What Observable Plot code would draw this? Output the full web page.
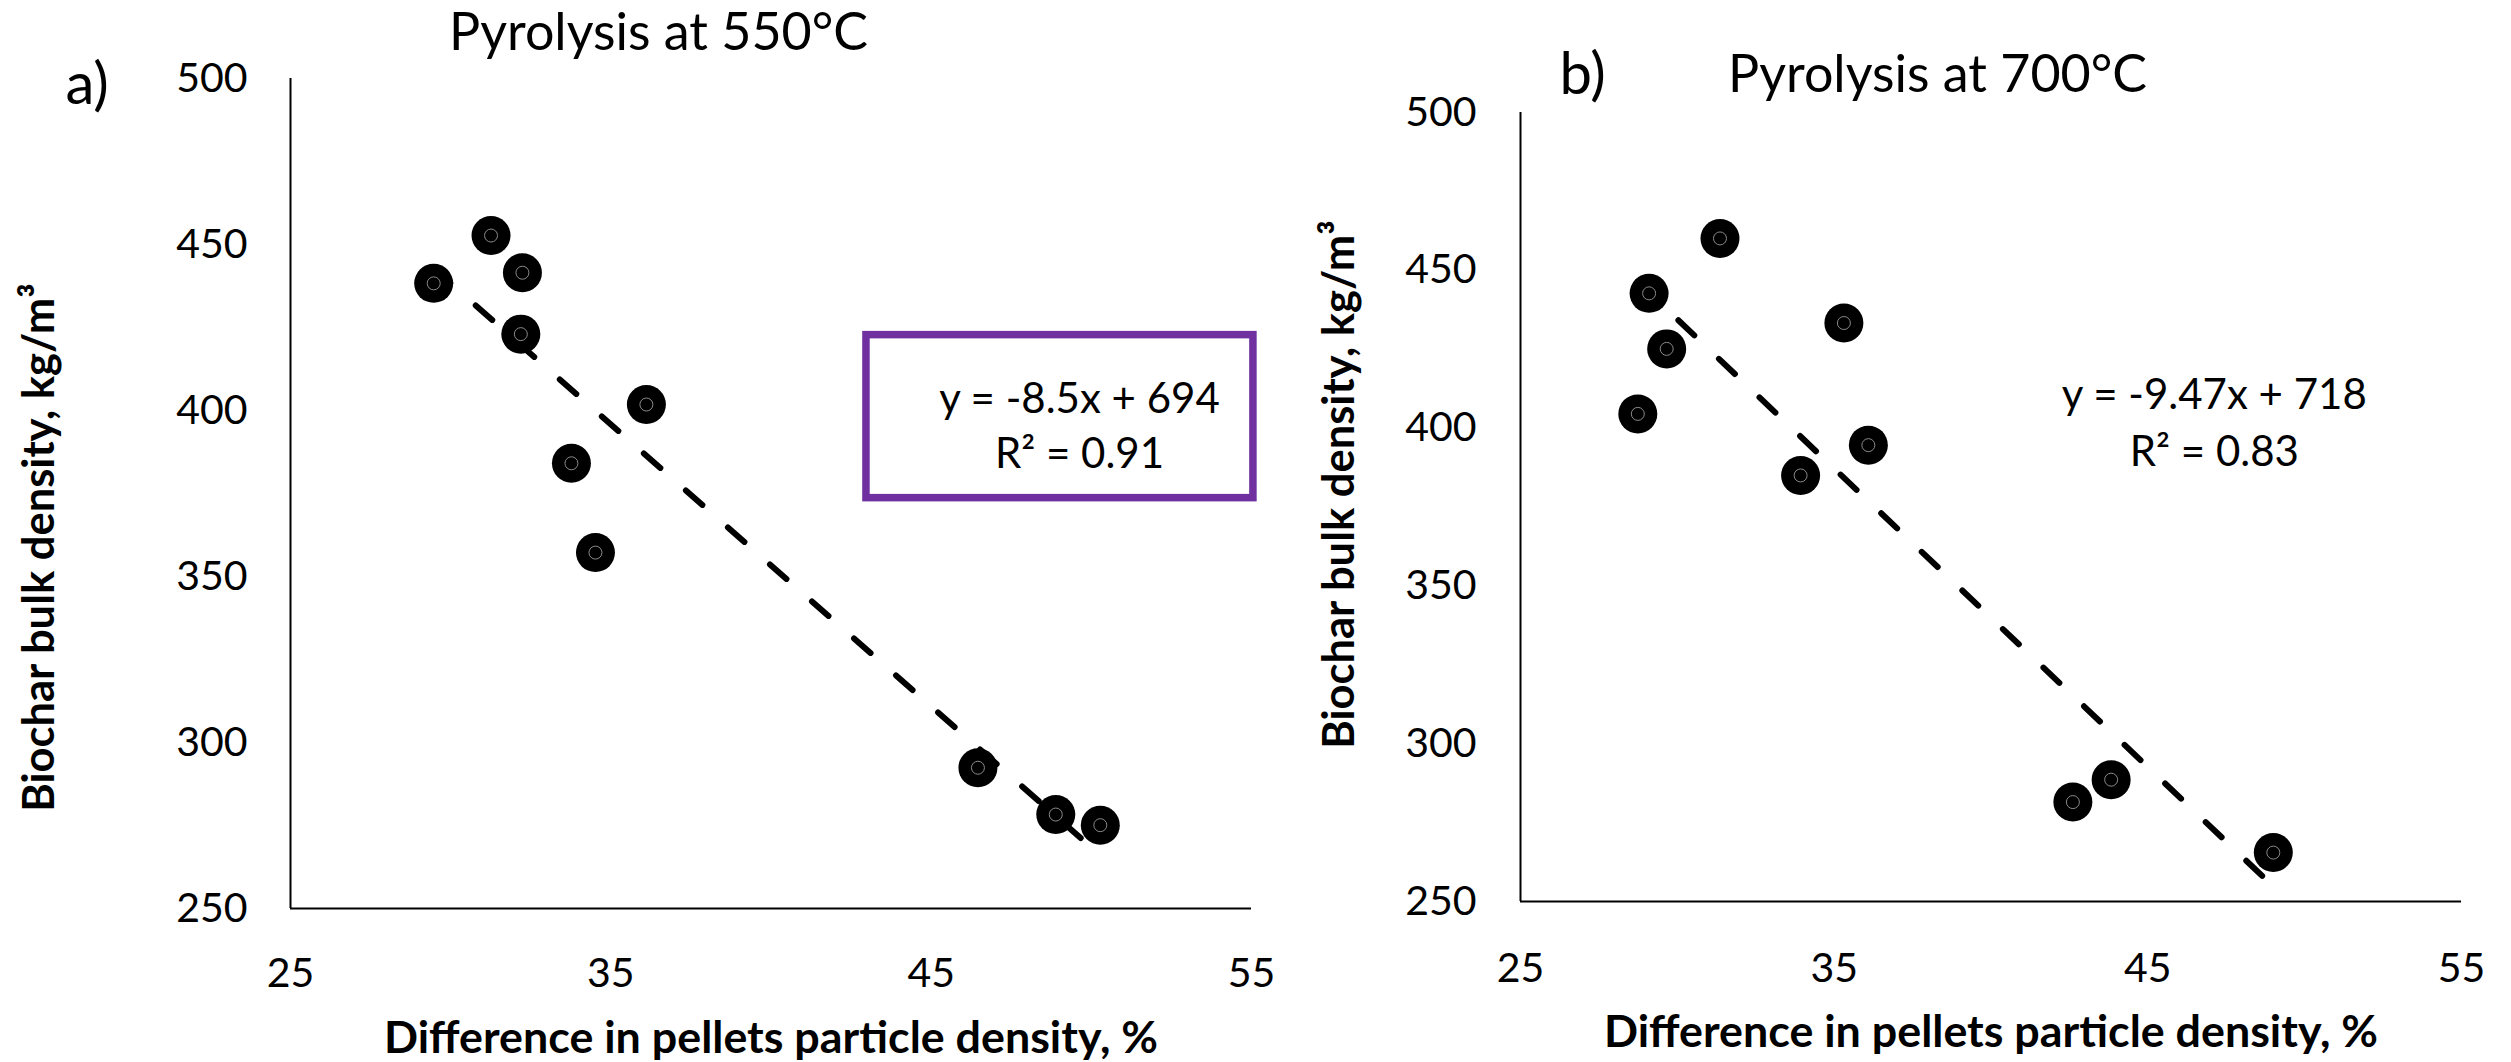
<!DOCTYPE html>
<html>
<head>
<meta charset="utf-8">
<script src="https://cdn.jsdelivr.net/npm/d3@7"></script>
<script src="https://cdn.jsdelivr.net/npm/@observablehq/plot@0.6"></script>
<style>
  html, body { margin: 0; padding: 0; background: #fff; }
  #wrap { position: relative; width: 2511px; height: 1062px; overflow: hidden; background: #fff; }
  #wrap svg { position: absolute; top: 0; max-width: none; }
</style>
</head>
<body>
<div id="wrap"></div>
<script>
// ---- shared axes ----
const xTicks = [25, 35, 45, 55];
const yTicks = [250, 300, 350, 400, 450, 500];
const xLabel = "Difference in pellets particle density, %";
const yLabel = "Biochar bulk density, kg/m³";

// ---- panel a: pyrolysis at 550°C ----
const titleA = "Pyrolysis at 550°C";
const tagA = "a)";
const xA = [29.47, 31.26, 32.24, 32.19, 36.11, 33.77, 34.52, 46.46, 48.89, 50.28];
const yA = [438.3, 452.7, 441.5, 423.0, 401.8, 384.1, 357.2, 292.4, 278.3, 275.1];
const eqA = ["y = -8.5x + 694", "R² = 0.91"];

// ---- panel b: pyrolysis at 700°C ----
const titleB = "Pyrolysis at 700°C";
const tagB = "b)";
const xB = [31.36, 29.10, 29.66, 28.74, 35.31, 36.09, 33.93, 42.61, 43.83, 49.00];
const yB = [460.1, 442.7, 425.1, 404.5, 433.3, 394.6, 385.0, 281.5, 288.6, 265.5];
const eqB = ["y = -9.47x + 718", "R² = 0.83"];

// ---- layout (positions / styles) ----
const FONT = "Lato";
const layoutA = {
  left: 0, width: 1260, height: 1062,
  marginLeft: 290, marginRight: 9, marginTop: 78, marginBottom: 154,
  xPad: 49, yPad: 43,
  title: {dx: -112.5, dy: -45},
  tag: {dx: -225, dy: 7},
  ylab: {dx: -250, dy: 54},
  xlab: {dx: 0, dy: 130},
  eqAt: {x: 49.63, y: [403.4, 386.6]},
  box: {x1: 42.98, x2: 55.06, y1: 373.6, y2: 422.7}
};
const layoutB = {
  left: 1260, width: 1251, height: 1062,
  marginLeft: 260, marginRight: 50, marginTop: 112, marginBottom: 161,
  xPad: 51, yPad: 44,
  title: {dx: -53.5, dy: -37.5},
  tag: {dx: 39, dy: -37},
  ylab: {dx: -180, dy: -22.5},
  xlab: {dx: 0, dy: 131},
  eqAt: {x: 47.12, y: [410.45, 392.1]},
  box: null
};

function panel(xs, ys, title, tag, eq, L) {
  const data = xs.map((x, i) => ({x, y: ys[i]}));
  const eqData = eq.map((t, i) => ({t, x: L.eqAt.x, y: L.eqAt.y[i]}));
  const marks = [
    Plot.ruleX([xTicks[0]], {stroke: "#000", strokeWidth: 2}),
    Plot.ruleY([yTicks[0]], {stroke: "#000", strokeWidth: 2}),
    Plot.linearRegressionY(data, {
      x: "x", y: "y", ci: 0, stroke: "#000", strokeWidth: 6,
      strokeDasharray: "22 34", strokeLinecap: "round"
    }),
    Plot.dot(data, {x: "x", y: "y", r: 19.5, fill: "#000", stroke: "none"}),
    Plot.dot(data, {x: "x", y: "y", r: 6.5, fill: "none", stroke: "#8a8a8a", strokeWidth: 1}),
    Plot.text(eqData, {x: "x", y: "y", text: "t", fontSize: 42, textAnchor: "middle", lineAnchor: "middle", fill: "#000"}),
    Plot.text([title], {text: d => d, frameAnchor: "top", textAnchor: "middle", lineAnchor: "middle",
      dx: L.title.dx, dy: L.title.dy, fontSize: 52, fill: "#000"}),
    Plot.text([tag], {text: d => d, frameAnchor: "top-left", textAnchor: "start", lineAnchor: "middle",
      dx: L.tag.dx, dy: L.tag.dy, fontSize: 58, fill: "#000"}),
    Plot.text([yLabel], {text: d => d, frameAnchor: "left", textAnchor: "middle", lineAnchor: "middle",
      rotate: -90, dx: L.ylab.dx, dy: L.ylab.dy, fontSize: 43.5, fontWeight: "bold", fill: "#000"}),
    Plot.text([xLabel], {text: d => d, frameAnchor: "bottom", textAnchor: "middle", lineAnchor: "middle",
      dx: L.xlab.dx, dy: L.xlab.dy, fontSize: 44.8, fontWeight: "bold", fill: "#000"})
  ];
  if (L.box) {
    marks.push(Plot.rect([L.box], {x1: "x1", x2: "x2", y1: "y1", y2: "y2",
      fill: "none", stroke: "#7030A0", strokeWidth: 7.5}));
  }
  const svg = Plot.plot({
    width: L.width, height: L.height,
    marginLeft: L.marginLeft, marginRight: L.marginRight,
    marginTop: L.marginTop, marginBottom: L.marginBottom,
    style: {fontFamily: FONT, fontSize: "41px", color: "#000", background: "transparent", overflow: "visible"},
    x: {domain: [xTicks[0], xTicks[xTicks.length - 1]], ticks: xTicks, tickSize: 0, tickPadding: L.xPad, label: null},
    y: {domain: [yTicks[0], yTicks[yTicks.length - 1]], ticks: yTicks, tickSize: 0, tickPadding: L.yPad, label: null},
    marks
  });
  svg.style.left = L.left + "px";
  return svg;
}

const wrap = document.getElementById("wrap");
wrap.appendChild(panel(xA, yA, titleA, tagA, eqA, layoutA));
wrap.appendChild(panel(xB, yB, titleB, tagB, eqB, layoutB));
</script>
</body>
</html>
